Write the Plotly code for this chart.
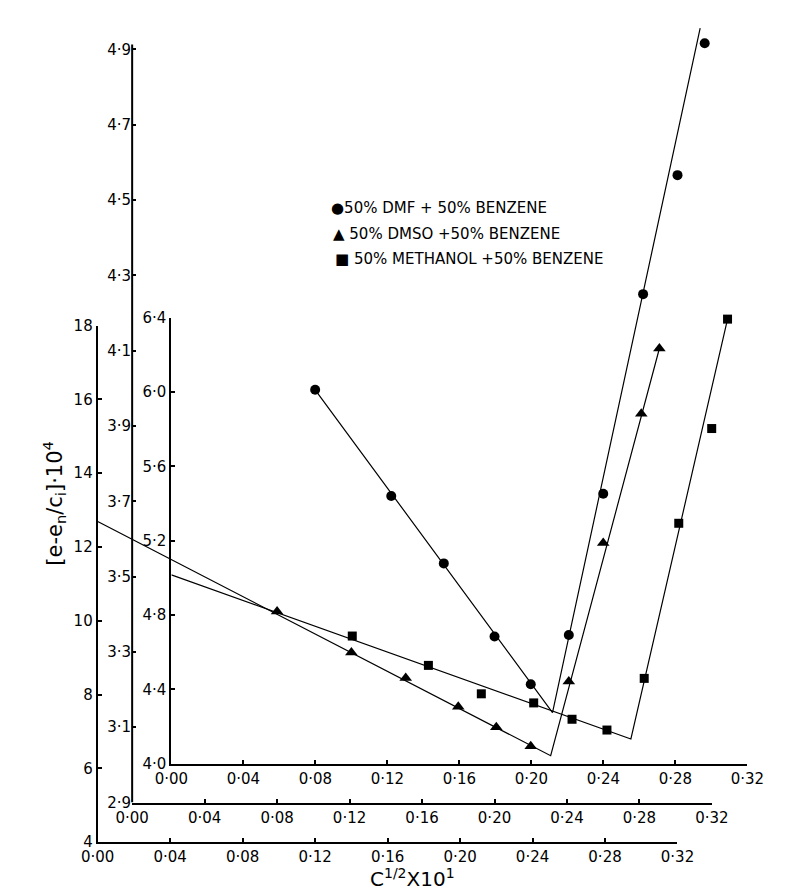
import plotly.graph_objects as go

W, H = 786, 894

# ---------------- tick labels ----------------
x_ticks = [0.00, 0.04, 0.08, 0.12, 0.16, 0.20, 0.24, 0.28, 0.32]
x_ticktext = ["0·00", "0·04", "0·08", "0·12", "0·16", "0·20", "0·24", "0·28", "0·32"]
outer_y_ticks = [4, 6, 8, 10, 12, 14, 16, 18]
outer_y_text = ["4", "6", "8", "10", "12", "14", "16", "18"]
middle_y_ticks = [2.9, 3.1, 3.3, 3.5, 3.7, 3.9, 4.1, 4.3, 4.5, 4.7, 4.9]
middle_y_text = ["2·9", "3·1", "3·3", "3·5", "3·7", "3·9", "4·1", "4·3", "4·5", "4·7", "4·9"]
inner_y_ticks = [4.0, 4.4, 4.8, 5.2, 5.6, 6.0, 6.4]
inner_y_text = ["4·0", "4·4", "4·8", "5·2", "5·6", "6·0", "6·4"]

# ---------------- data ----------------
# 50% DMF + 50% benzene (middle axes, 2.9 - 4.9)
dmf_x = [0.101, 0.143, 0.172, 0.200, 0.220, 0.241, 0.260, 0.282, 0.301, 0.316]
dmf_y = [3.996, 3.714, 3.535, 3.341, 3.214, 3.345, 3.720, 4.250, 4.566, 4.916]
dmf_fit_x = [0.101, 0.232, 0.3135]
dmf_fit_y = [3.996, 3.139, 4.956]

# 50% DMSO + 50% benzene (outer axes, 4 - 18)
dmso_x = [0.099, 0.140, 0.170, 0.199, 0.220, 0.239, 0.260, 0.279, 0.300, 0.310]
dmso_y = [10.25, 9.14, 8.45, 7.67, 7.11, 6.60, 8.35, 12.11, 15.61, 17.38]
dmso_fit_x = [0.0, 0.250, 0.310]
dmso_fit_y = [12.69, 6.34, 17.38]

# 50% methanol + 50% benzene (inner axes, 4.0 - 6.4)
meoh_x = [0.1005, 0.1428, 0.1722, 0.2013, 0.2226, 0.2420, 0.2627, 0.2819, 0.3002, 0.3090]
meoh_y = [4.687, 4.529, 4.376, 4.327, 4.239, 4.181, 4.459, 5.294, 5.804, 6.393]
meoh_fit_x = [0.0, 0.2553, 0.3090]
meoh_fit_y = [5.016, 4.133, 6.393]

legend_labels = ["●50% DMF + 50% BENZENE",
                 "▲ 50% DMSO +50% BENZENE",
                 "■ 50% METHANOL +50% BENZENE"]

FONT = "DejaVu Sans"

fig = go.Figure()

def add_series(x, y, fx, fy, xa, ya, symbol, size, name):
    fig.add_trace(go.Scatter(x=fx, y=fy, mode="lines", xaxis=xa, yaxis=ya,
                             line=dict(color="black", width=1.2),
                             showlegend=False, hoverinfo="skip"))
    fig.add_trace(go.Scatter(x=x, y=y, mode="markers", xaxis=xa, yaxis=ya, name=name,
                             marker=dict(symbol=symbol, size=size, color="black"),
                             cliponaxis=False, showlegend=False))

add_series(dmso_x, dmso_y, dmso_fit_x, dmso_fit_y, "x", "y", "triangle-up", 11,
           "50% DMSO + 50% BENZENE")
add_series(dmf_x, dmf_y, dmf_fit_x, dmf_fit_y, "x2", "y2", "circle", 10,
           "50% DMF + 50% BENZENE")
add_series(meoh_x, meoh_y, meoh_fit_x, meoh_fit_y, "x3", "y3", "square", 9,
           "50% METHANOL + 50% BENZENE")

tickfont = dict(family=FONT, size=15, color="black")

def xax(l, r, anchor):
    return dict(domain=[l / W, r / W], range=[0, 0.32], anchor=anchor,
                showgrid=False, zeroline=False, showline=True, linecolor="black",
                linewidth=2, ticks="inside", ticklen=4, tickwidth=1.5, tickcolor="black",
                tickvals=x_ticks, ticktext=x_ticktext, tickfont=tickfont)

def yax(b, t, rng, tv, tt, anchor, showline=True):
    return dict(domain=[1 - b / H, 1 - t / H], range=rng, anchor=anchor,
                showgrid=False, zeroline=False, showline=showline, linecolor="black",
                linewidth=2, ticks="inside", ticklen=4, tickwidth=1.5, tickcolor="black",
                tickvals=tv, ticktext=tt, tickfont=tickfont)

# middle y-range extended a bit above 4.9 so the top point/line is not clipped
mid_top = 4.98
mid_scale = (801.7 - 33.0) / 2.0
mid_top_px = 801.7 - (mid_top - 2.9) * mid_scale

fig.update_layout(
    width=W, height=H,
    margin=dict(l=0, r=0, t=0, b=0),
    paper_bgcolor="white", plot_bgcolor="rgba(0,0,0,0)",
    showlegend=False,
    font=dict(family=FONT, color="black"),
    xaxis=xax(76, 682, "y"),
    yaxis=yax(842, 315, [4, 18], outer_y_ticks, outer_y_text, "x"),
    xaxis2=xax(112, 718, "y2"),
    yaxis2=yax(801.7, mid_top_px, [2.9, mid_top], middle_y_ticks, middle_y_text, "x2",
               showline=False),
    xaxis3=xax(153, 755, "y3"),
    yaxis3=yax(762, 307, [4.0, 6.4], inner_y_ticks, inner_y_text, "x3"),
)

# middle y-axis line (drawn up to just above the 4.9 tick)
fig.add_shape(type="line", xref="x2 domain", yref="y2", x0=0, x1=0, y0=2.9, y1=4.913,
              line=dict(color="black", width=2))

annotations = [
    dict(text="[e-e<sub>n</sub>/c<sub>i</sub>]·10<sup>4</sup>", textangle=-90,
         x=30 / W, y=1 - 496 / H, xref="paper", yref="paper", showarrow=False,
         xanchor="center", yanchor="middle",
         font=dict(family=FONT, size=21, color="black")),
    dict(text="C<sup>1/2</sup>X10<sup>1</sup>", x=405 / W, y=1 - 879 / H,
         xref="paper", yref="paper", showarrow=False,
         xanchor="center", yanchor="middle",
         font=dict(family=FONT, size=20, color="black")),
]
for i, (lab, ypx) in enumerate(zip(legend_labels, [195, 221, 247])):
    annotations.append(dict(text=lab, x=(318 + 2 * i) / W, y=1 - ypx / H, xref="paper",
                            yref="paper", xanchor="left", yanchor="middle",
                            showarrow=False,
                            font=dict(family=FONT, size=15, color="black")))
fig.update_layout(annotations=annotations)

fig.write_html("out.html")
